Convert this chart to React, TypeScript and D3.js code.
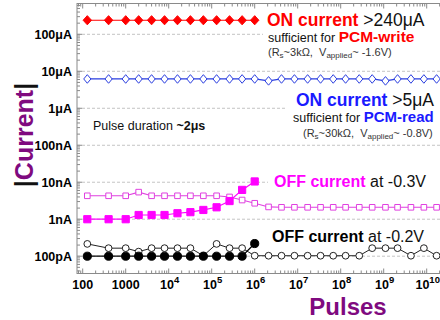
import * as d3 from "d3";
import { useEffect, useRef } from "react";

const FONT = "'Liberation Sans', Arial, Helvetica, sans-serif";
const WIDTH = 440;
const HEIGHT = 320;
const frame = { left: 77, right: 446, top: 3.5, bottom: 273.5 };

// number of pulses at each measurement (roughly doubling)
const pulses = [
  128, 400, 1e3, 2e3, 4e3, 8e3, 1.6e4, 3.2e4, 6.4e4, 1.3e5, 2.6e5, 5.1e5, 1.0e6,
  2.1e6, 4.2e6, 8.4e6, 1.7e7, 3.4e7, 6.7e7, 1.3e8, 2.7e8, 5.4e8, 1.1e9, 2.1e9,
  4.3e9, 8.6e9, 1.7e10,
];

// currents in A
const onWrite = [
  2.4e-4, 2.4e-4, 2.4e-4, 2.4e-4, 2.4e-4, 2.4e-4, 2.4e-4, 2.4e-4, 2.4e-4, 2.4e-4,
  2.4e-4, 2.4e-4, 2.4e-4,
];
const onRead = [
  6.2e-6, 6.2e-6, 6.2e-6, 6.2e-6, 6.2e-6, 6.2e-6, 6.2e-6, 6.2e-6, 6.2e-6, 6.2e-6,
  6.2e-6, 6.2e-6, 6.2e-6, 5.5e-6, 6.2e-6, 6.2e-6, 6.2e-6, 6.2e-6, 6.2e-6, 6.2e-6,
  6.2e-6, 6.2e-6, 5.5e-6, 6.2e-6, 6.2e-6, 6.2e-6, 6.2e-6,
];
const off03Filled = [
  1.0e-9, 1.0e-9, 1.0e-9, 1.3e-9, 1.3e-9, 1.3e-9, 1.45e-9, 1.55e-9, 1.78e-9, 2.1e-9,
  3.1e-9, 6.2e-9, 1.05e-8,
];
const off03Open = [
  4.3e-9, 4.3e-9, 4.3e-9, 5.4e-9, 4.3e-9, 4.3e-9, 4.3e-9, 4.3e-9, 4.3e-9, 4.3e-9,
  4.0e-9, 3.3e-9, 2.7e-9, 2.15e-9, 2.1e-9, 2.1e-9, 2.1e-9, 2.1e-9, 2.1e-9, 2.1e-9,
  2.1e-9, 2.1e-9, 2.1e-9, 2.1e-9, 2.1e-9, 2.1e-9, 2.1e-9,
];
const off02Filled = [
  1.0e-10, 1.0e-10, 1.0e-10, 1.0e-10, 1.0e-10, 1.0e-10, 1.0e-10, 1.0e-10, 1.0e-10,
  1.0e-10, 1.0e-10, 1.0e-10, 2.2e-10,
];
const off02Open = [
  2.15e-10, 1.65e-10, 1.65e-10, 1.33e-10, 1.65e-10, 1.65e-10, 1.65e-10, 1.65e-10,
  1.03e-10, 2.15e-10, 1.65e-10, 1.65e-10, 1.03e-10, 1.03e-10, 1.03e-10, 1.03e-10,
  1.03e-10, 1.03e-10, 1.03e-10, 1.03e-10, 1.03e-10, 1.65e-10, 1.65e-10, 1.65e-10,
  1.03e-10, 1.65e-10, 1.03e-10,
];

const xTicks = [1e2, 1e3, 1e4, 1e5, 1e6, 1e7, 1e8, 1e9, 1e10];
const xTickLabels = [
  ["100", ""], ["1000", ""], ["10", "4"], ["10", "5"], ["10", "6"],
  ["10", "7"], ["10", "8"], ["10", "9"], ["10", "10"],
];
const yTicks = [1e-10, 1e-9, 1e-8, 1e-7, 1e-6, 1e-5, 1e-4];
const yTickLabels = ["100pA", "1nA", "10nA", "100nA", "1\u03bcA", "10\u03bcA", "100\u03bcA"];

const diamond = (w, h) => `M0,${-h}L${w},0L0,${h}L${-w},0Z`;
const square = (s) => `M${-s},${-s}H${s}V${s}H${-s}Z`;

const App = () => {
  const svgRef = useRef(null);

  useEffect(() => {
    const svg = d3.select(svgRef.current);
    svg.selectAll("*").remove();

    const x = d3.scaleLog().domain([1e2, 1e10]).range([82.7, 426.7]);
    const y = d3.scaleLog().domain([1e-10, 1e-4]).range([256.2, 34.3]);

    // gridlines
    svg
      .append("g")
      .selectAll("line")
      .data(yTicks)
      .join("line")
      .attr("x1", frame.left)
      .attr("x2", WIDTH)
      .attr("y1", (d) => y(d))
      .attr("y2", (d) => y(d))
      .attr("stroke", "#c4c4c4")
      .attr("stroke-dasharray", "3,2");

    // white boxes behind the annotations
    const boxes = [
      [263, 8, 180, 55],
      [285, 87, 160, 55],
      [268, 171, 175, 21],
    ];
    svg
      .append("g")
      .selectAll("rect")
      .data(boxes)
      .join("rect")
      .attr("x", (d) => d[0])
      .attr("y", (d) => d[1])
      .attr("width", (d) => d[2])
      .attr("height", (d) => d[3])
      .attr("fill", "white");

    // frame
    svg
      .append("rect")
      .attr("x", frame.left)
      .attr("y", frame.top)
      .attr("width", frame.right - frame.left)
      .attr("height", frame.bottom - frame.top)
      .attr("fill", "none")
      .attr("stroke", "#8a8a8a");

    // ticks (pointing inwards)
    const tickG = svg.append("g").attr("stroke", "#8a8a8a");
    const xMinor = [];
    for (let e = 1; e <= 10; e++)
      for (let m = 1; m < 10; m++) {
        const v = m * 10 ** e;
        const px = x(v);
        if (px > frame.left && px < WIDTH) xMinor.push({ px, major: m === 1 });
      }
    xMinor.forEach(({ px, major }) => {
      const len = major ? 5 : 3;
      tickG.append("line").attr("x1", px).attr("x2", px)
        .attr("y1", frame.bottom).attr("y2", frame.bottom - len);
      tickG.append("line").attr("x1", px).attr("x2", px)
        .attr("y1", frame.top).attr("y2", frame.top + len);
    });
    const yMinor = [];
    for (let e = -11; e <= -4; e++)
      for (let m = 1; m < 10; m++) {
        const v = m * 10 ** e;
        const py = y(v);
        if (py > frame.top && py < frame.bottom) yMinor.push({ py, major: m === 1 });
      }
    yMinor.forEach(({ py, major }) => {
      tickG.append("line").attr("x1", frame.left).attr("x2", frame.left + (major ? 5 : 3))
        .attr("y1", py).attr("y2", py);
    });

    // tick labels
    svg
      .append("g")
      .selectAll("text")
      .data(yTicks)
      .join("text")
      .attr("x", 72)
      .attr("y", (d) => y(d))
      .attr("dy", "0.36em")
      .attr("text-anchor", "end")
      .attr("font-family", FONT)
      .attr("font-weight", "bold")
      .attr("font-size", 12.5)
      .text((d, i) => yTickLabels[i]);

    const xl = svg.append("g");
    xTicks.forEach((v, i) => {
      const [base, exp] = xTickLabels[i];
      const t = xl
        .append("text")
        .attr("x", x(v) + (exp ? 1 : 0))
        .attr("y", 288.5)
        .attr("text-anchor", "middle")
        .attr("font-family", FONT)
        .attr("font-weight", "bold")
        .attr("font-size", 12.5);
      t.append("tspan").text(base);
      if (exp) t.append("tspan").attr("dy", -5.5).attr("font-size", 9.5).text(exp);
    });

    // axis titles
    const yt = svg
      .append("text")
      .attr("transform", "translate(33,135) rotate(-90)")
      .attr("text-anchor", "middle")
      .attr("font-family", FONT)
      .attr("font-weight", "bold")
      .attr("font-size", 25);
    yt.append("tspan").attr("fill", "#111").text("|");
    yt.append("tspan").attr("fill", "#7f0a7f").text("Current");
    yt.append("tspan").attr("fill", "#111").text("|");

    svg
      .append("text")
      .attr("x", 348)
      .attr("y", 315)
      .attr("text-anchor", "middle")
      .attr("font-family", FONT)
      .attr("font-weight", "bold")
      .attr("font-size", 24)
      .attr("fill", "#7f0a7f")
      .text("Pulses");

    // series
    const drawSeries = (values, color, width, shape, fill, stroke) => {
      const pts = values.map((v, i) => [pulses[i], v]);
      const g = svg.append("g");
      g.append("path")
        .datum(pts)
        .attr("fill", "none")
        .attr("stroke", color)
        .attr("stroke-width", width)
        .attr("d", d3.line().x((d) => x(d[0])).y((d) => y(d[1])));
      g.selectAll(".m")
        .data(pts)
        .join("path")
        .attr("transform", (d) => `translate(${x(d[0])},${y(d[1])})`)
        .attr("d", shape)
        .attr("fill", fill)
        .attr("stroke", stroke)
        .attr("stroke-width", 1);
    };

    drawSeries(onRead, "#2a3ee0", 1.2, diamond(3.6, 4.3), "white", "#2a3ee0");
    drawSeries(onWrite, "#ff0000", 1.2, diamond(4.2, 4.6), "#ff0000", "#ff0000");
    drawSeries(off03Open, "#e040e0", 1.1, square(2.8), "white", "#e040e0");
    drawSeries(off03Filled, "#ff00ff", 1.2, square(3.6), "#ff00ff", "#ff00ff");
    drawSeries(off02Open, "#222", 1, d3.symbol(d3.symbolCircle, 36)(), "white", "#222");
    drawSeries(off02Filled, "#000", 1.2, d3.symbol(d3.symbolCircle, 52)(), "#000", "#000");

    // annotations
    const rich = (px, py, parts) => {
      const t = svg
        .append("text")
        .attr("x", px)
        .attr("y", py)
        .attr("font-family", FONT)
        .style("white-space", "pre");
      parts.forEach(([s, size, bold, fill, dy]) => {
        t.append("tspan")
          .attr("font-size", size)
          .attr("font-weight", bold ? "bold" : "normal")
          .attr("fill", fill)
          .attr("dy", dy || 0)
          .text(s);
      });
    };

    rich(267, 26, [
      ["ON current", 17.5, true, "#ff0000"],
      [" >240\u03bcA", 17.5, false, "#111"],
    ]);
    rich(268, 42, [
      ["sufficient for ", 12.5, false, "#111"],
      ["PCM-write", 15.5, true, "#ff0000"],
    ]);
    rich(268, 55.5, [
      ["(R", 11, false, "#333"],
      ["s", 8, false, "#333", 2.5],
      ["~3k\u03a9,  V", 11, false, "#333", -2.5],
      ["applied", 8, false, "#333", 2.5],
      ["~ -1.6V)", 11, false, "#333", -2.5],
    ]);

    rich(296, 105.5, [
      ["ON current", 17.5, true, "#1a1aff"],
      [" >5\u03bcA", 17.5, false, "#111"],
    ]);
    rich(293, 122, [
      ["sufficient for ", 12.5, false, "#111"],
      ["PCM-read", 15, true, "#1a1aff"],
    ]);
    rich(303, 136.8, [
      ["(R", 11, false, "#333"],
      ["s", 8, false, "#333", 2.5],
      ["~30k\u03a9,  V", 11, false, "#333", -2.5],
      ["applied", 8, false, "#333", 2.5],
      ["~ -0.8V)", 11, false, "#333", -2.5],
    ]);

    rich(93, 130, [
      ["Pulse duration ", 12.5, false, "#111"],
      ["~2\u03bcs", 12.5, true, "#111"],
    ]);

    rich(274, 186.5, [
      ["OFF current", 16, true, "#ff00ff"],
      [" at -0.3V", 16, false, "#111"],
    ]);
    rich(272, 241.5, [
      ["OFF current", 16, true, "#000"],
      [" at -0.2V", 16, false, "#111"],
    ]);
  }, []);

  return (
    <svg
      ref={svgRef}
      width={WIDTH}
      height={HEIGHT}
      style={{ position: "fixed", left: 0, top: 0, background: "white" }}
    />
  );
};

export default App;
